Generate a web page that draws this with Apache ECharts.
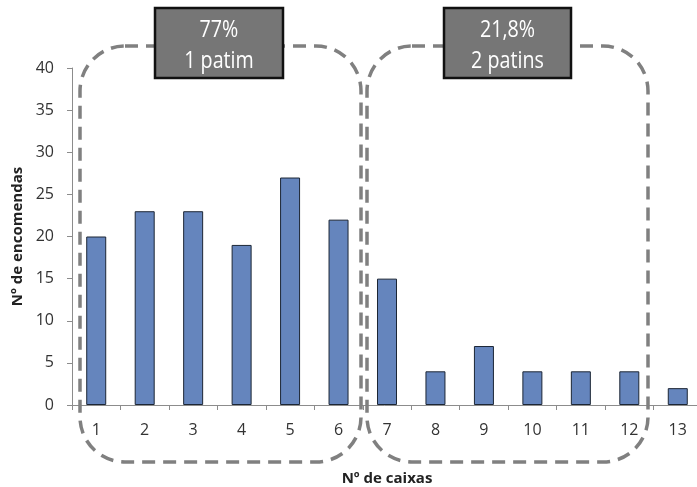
<!DOCTYPE html>
<html>
<head>
<meta charset="utf-8">
<script src="https://cdn.jsdelivr.net/npm/echarts@6/dist/echarts.min.js"></script>
<style>
html,body{margin:0;padding:0;background:#fff;}
#c{width:697px;height:487px;}
</style>
</head>
<body>
<div id="c"></div>
<script>
var categories = ['1','2','3','4','5','6','7','8','9','10','11','12','13'];
var encomendas = [20, 23, 23, 19, 27, 22, 15, 4, 7, 4, 4, 4, 2];
var yTicks = {min: 0, max: 40, interval: 5};
var groupLabels = [['77%', '1 patim'], ['21,8%', '2 patins']];

var chart = echarts.init(document.getElementById('c'), null, {renderer: 'canvas'});
var labelFont = '"Open Sans","Noto Sans",sans-serif';
var tickFont = '"Open Sans","Noto Sans",sans-serif';

function dashedBox(x, y, w, h) {
  return {
    type: 'rect', z: 100,
    shape: {x: x, y: y, width: w, height: h, r: 45},
    style: {fill: null, stroke: '#808080', lineWidth: 3.5, lineDash: [13, 8]}
  };
}
function labelText(cx, cy, txt) {
  return {type: 'text', z: 111, x: cx, y: cy, scaleX: 0.82, scaleY: 1,
    style: {x: 0, y: 0, text: txt, fill: '#fff',
      font: '24px ' + labelFont, textAlign: 'center', textVerticalAlign: 'middle'}};
}
function labelBox(x, y, w, h, lines) {
  return {
    type: 'group', z: 110,
    children: [
      {type: 'rect', z: 110, shape: {x: x, y: y, width: w, height: h},
       style: {fill: '#767676', stroke: '#111', lineWidth: 2.5}},
      labelText(x + w / 2, y + 22, lines[0]),
      labelText(x + w / 2, y + 53, lines[1])
    ]
  };
}

chart.setOption({
  animation: false,
  backgroundColor: '#fff',
  grid: {left: 72, right: -5, top: 68, bottom: 82, containLabel: false, outerBoundsMode: 'none'},
  xAxis: {
    type: 'category',
    data: categories,
    name: 'Nº de caixas',
    nameLocation: 'middle',
    nameGap: 66,
    nameTextStyle: {fontFamily: tickFont, fontWeight: 'bold', fontSize: 15, color: '#222'},
    axisLine: {lineStyle: {color: '#8c8c8c', width: 1}},
    axisTick: {show: true, length: 5, lineStyle: {color: '#8c8c8c'}},
    axisLabel: {fontFamily: tickFont, fontSize: 16, color: '#333', margin: 17}
  },
  yAxis: {
    type: 'value',
    min: yTicks.min, max: yTicks.max, interval: yTicks.interval,
    name: 'Nº de encomendas',
    nameLocation: 'middle',
    nameGap: 47,
    nameTextStyle: {fontFamily: tickFont, fontWeight: 'bold', fontSize: 15, color: '#222'},
    axisLine: {show: true, lineStyle: {color: '#8c8c8c', width: 1}},
    axisTick: {show: true, length: 5, lineStyle: {color: '#8c8c8c'}},
    splitLine: {show: false},
    axisLabel: {fontFamily: tickFont, fontSize: 16, color: '#333', margin: 18}
  },
  series: [{
    type: 'bar',
    data: encomendas,
    barWidth: 20,
    itemStyle: {color: '#6585bd', borderColor: '#1c2635', borderWidth: 1}
  }],
  graphic: [
    dashedBox(80, 46, 281, 416),
    dashedBox(367, 46, 281, 416),
    labelBox(155, 8, 128, 70, groupLabels[0]),
    labelBox(444, 8, 127, 70, groupLabels[1])
  ]
});
</script>
</body>
</html>
